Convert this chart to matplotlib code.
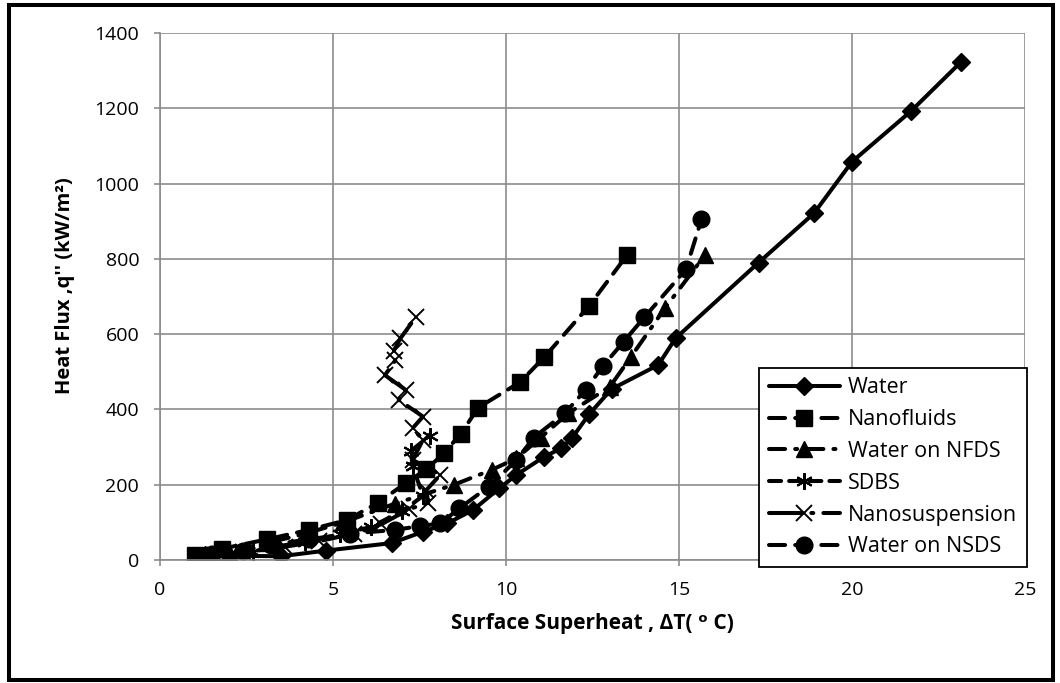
import matplotlib
matplotlib.use("Agg")
import matplotlib.pyplot as plt
from matplotlib.patches import Rectangle

plt.rcParams["font.family"] = ["Open Sans", "DejaVu Sans"]

# ---- data ----
water_x = [1.3, 3.5, 4.8, 6.7, 7.6, 8.3, 9.05, 9.8, 10.3, 11.1, 11.6, 11.9, 12.4, 13.05,
           14.4, 14.9, 17.3, 18.9, 20.0, 21.7, 23.15]
water_y = [12, 10, 25, 45, 75, 97, 133, 190, 226, 274, 297, 323, 387, 454,
           518, 589, 790, 921, 1058, 1192, 1323]

nano_x = [1.0, 1.8, 3.1, 4.3, 5.4, 6.3, 7.1, 7.7, 8.2, 8.7, 9.2, 10.4, 11.1, 12.4, 13.5]
nano_y = [14, 30, 55, 80, 106, 152, 204, 241, 283, 336, 405, 472, 538, 675, 810]

nfds_x = [1.1, 2.0, 3.1, 4.2, 5.3, 6.8, 8.5, 9.6, 10.3, 11.0, 11.8, 13.0, 13.6, 14.6, 15.75]
nfds_y = [10, 20, 45, 70, 100, 150, 200, 240, 270, 325, 390, 460, 538, 670, 810]

sdbs_x = [1.2, 2.0, 2.7, 3.3, 4.2, 5.2, 6.1, 7.0, 7.6, 7.3, 7.25, 7.8]
sdbs_y = [10, 15, 22, 35, 48, 68, 88, 130, 170, 250, 290, 330]

susp_x = [1.6, 2.4, 3.6, 4.6, 5.6, 6.4, 7.2, 7.75, 7.7, 8.1, 7.3, 7.6, 7.3, 7.6,
          6.9, 7.1, 6.5, 6.8, 6.75, 6.95, 7.4]
susp_y = [12, 20, 35, 50, 70, 95, 135, 152, 186, 226, 266, 319, 350, 381,
          425, 452, 491, 530, 555, 589, 646]

nsds_x = [1.5, 2.4, 3.2, 4.3, 5.5, 6.8, 7.5, 8.1, 8.65, 9.5, 10.3, 10.8, 11.7, 12.3,
          12.8, 13.4, 14.0, 15.2, 15.65]
nsds_y = [15, 25, 40, 55, 70, 80, 90, 97, 137, 195, 265, 325, 390, 452,
          515, 580, 645, 772, 905]

x_ticks = [0, 5, 10, 15, 20, 25]
y_ticks = [0, 200, 400, 600, 800, 1000, 1200, 1400]

W, H = 1060, 683
fig = plt.figure(figsize=(W / 100, H / 100), dpi=100)
ax = fig.add_axes([160 / W, 1 - 560 / H, 865 / W, 527 / H])

lw = 2.9
series = [
    ("Water", water_x, water_y, dict(ls="-", marker="D", ms=9)),
    ("Nanofluids", nano_x, nano_y, dict(ls=(0, (4, 2.5)), marker="s", ms=12)),
    ("Water on NFDS", nfds_x, nfds_y, dict(ls=(0, (4, 2.5, 0.5, 2.5)), marker="^", ms=12)),
    ("SDBS", sdbs_x, sdbs_y, dict(ls=(0, (3, 2)), marker=(6, 2, 0), ms=12, mew=1.5)),
    ("Nanosuspension", susp_x, susp_y, dict(ls=(0, (8, 2.5, 0.5, 2.5)), marker="x", ms=12, mew=1.4)),
    ("Water on NSDS", nsds_x, nsds_y, dict(ls=(0, (4, 2.5)), marker="o", ms=12)),
]
for name, xs, ys, st in series:
    ax.plot(xs, ys, color="black", lw=lw, mfc="black", mec="black",
            solid_capstyle="round", dash_capstyle="round", label=name, **st)

ax.set_xlim(0, 25)
ax.set_ylim(0, 1400)
ax.set_xticks(x_ticks)
ax.set_yticks(y_ticks)
ax.grid(True, color="#8c8c8c", lw=1.2)
ax.set_axisbelow(True)
for s in ["top", "right"]:
    ax.spines[s].set_visible(False)
for s in ["left", "bottom"]:
    ax.spines[s].set_color("#8c8c8c")
    ax.spines[s].set_linewidth(1.2)
ax.tick_params(length=4, width=1.2, color="#8c8c8c", labelsize=14, pad=11)

ax.set_xlabel("Surface Superheat , \u0394T( \u1d52 C)", fontsize=15, fontweight="bold")
ax.set_ylabel("Heat Flux ,q'' (kW/m\u00b2)", fontsize=14.5, fontweight="bold")
ax.xaxis.set_label_coords(0.5, -0.1)
ax.yaxis.set_label_coords(-0.098, 0.52)

# legend box sits in the lower right, slightly below the axis line
leg = ax.legend(loc="lower right", bbox_to_anchor=(1027 / W, 1 - 567 / H),
                bbox_transform=fig.transFigure, borderaxespad=0, fontsize=15.5,
                handlelength=3.3, handletextpad=0.4, labelspacing=0.5,
                borderpad=0.45, fancybox=False, framealpha=1, numpoints=1)
leg.get_frame().set_edgecolor("black")
leg.get_frame().set_linewidth(1.3)

fig.patches.append(Rectangle((9 / W, 3 / H), 1044 / W, 675 / H, transform=fig.transFigure,
                             fill=False, ec="black", lw=2.9))

fig.savefig("out.png", dpi=100)
